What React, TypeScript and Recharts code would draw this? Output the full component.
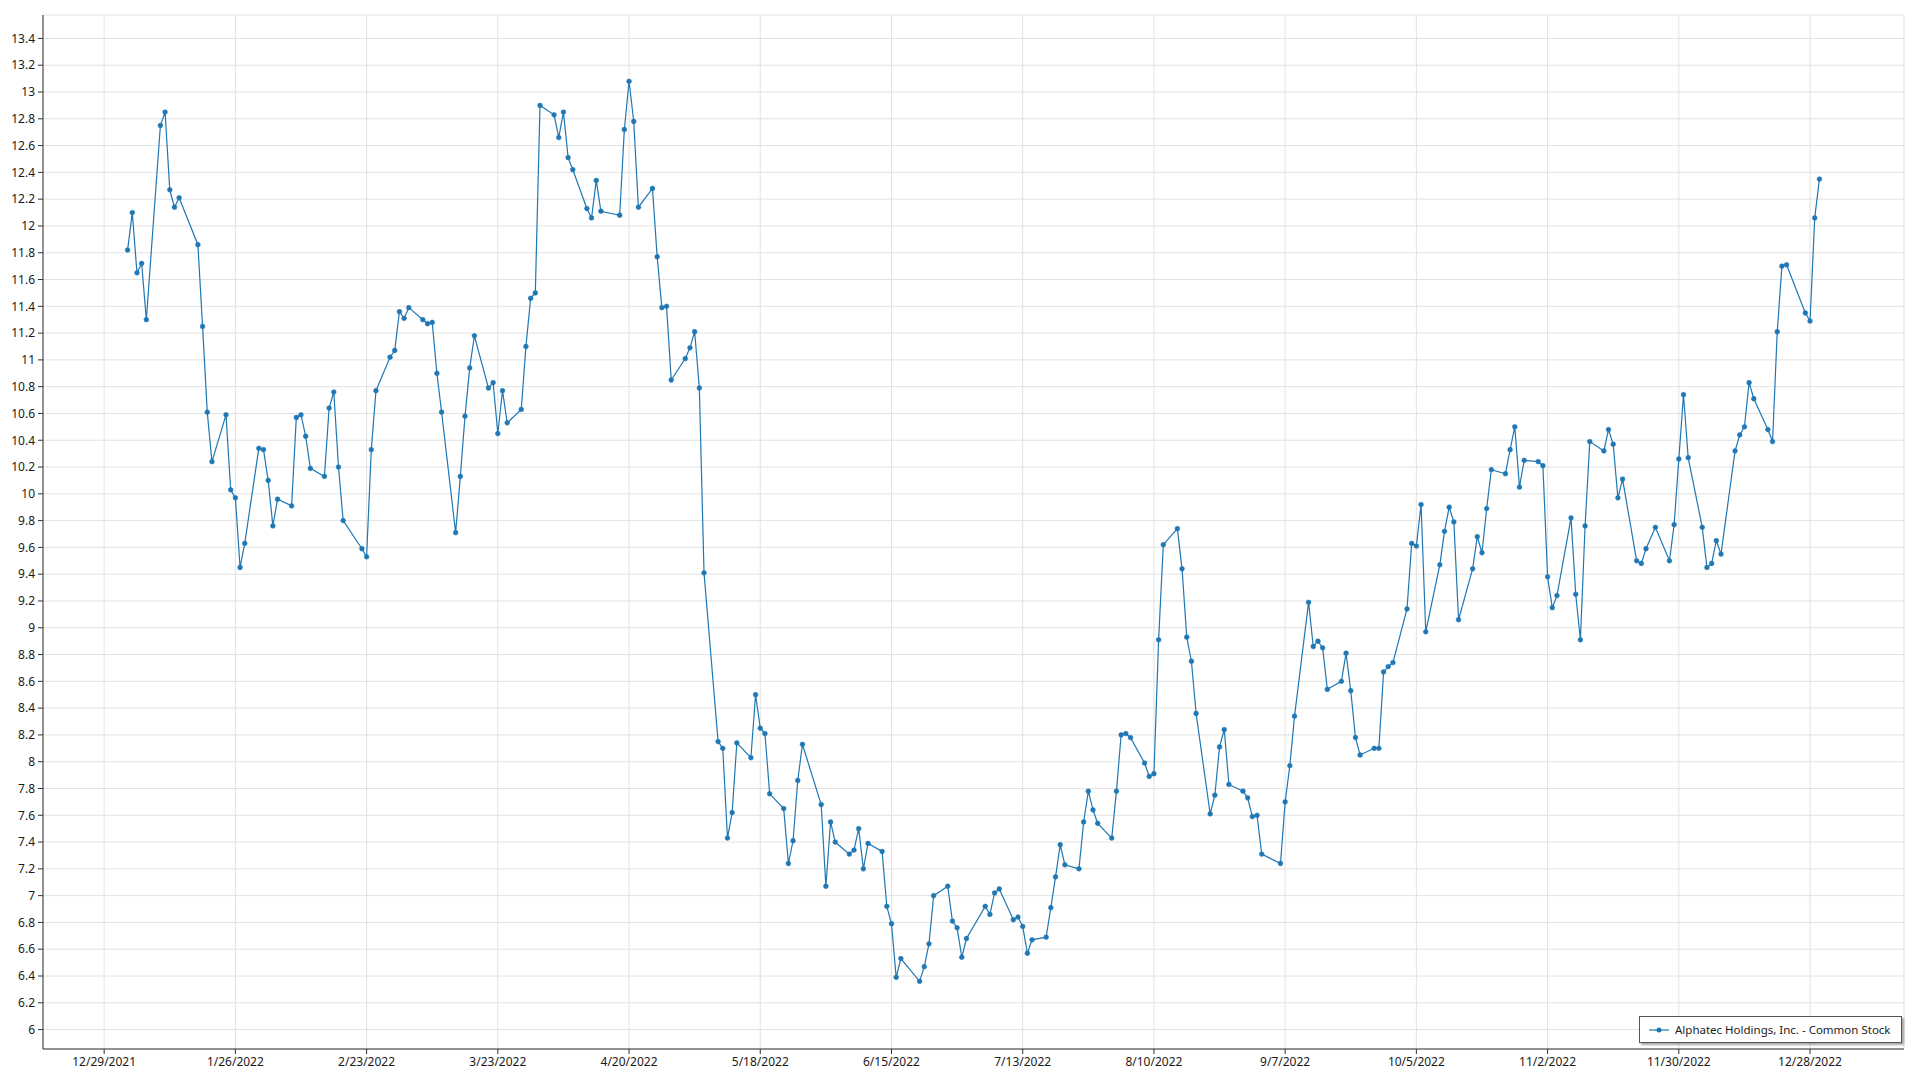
import React from "react";
import {
  LineChart,
  Line,
  XAxis,
  YAxis,
  CartesianGrid,
  Legend,
} from "recharts";

const SERIES_NAME = "Alphatec Holdings, Inc. - Common Stock";

// NYSE closed days in 2022 (weekdays only)
const holidays = [
  "2022-01-17",
  "2022-02-21",
  "2022-04-15",
  "2022-05-30",
  "2022-06-20",
  "2022-07-04",
  "2022-09-05",
  "2022-11-24",
  "2022-12-26",
];

// daily closes, one value per trading day, month by month
const jan = [11.82, 12.1, 11.65, 11.72, 11.3, 12.75, 12.85, 12.27, 12.14, 12.21, 11.86, 11.25, 10.61, 10.24, 10.59, 10.03, 9.97, 9.45, 9.63, 10.34];
const feb = [10.33, 10.1, 9.76, 9.96, 9.91, 10.57, 10.59, 10.43, 10.19, 10.13, 10.64, 10.76, 10.2, 9.8, 9.59, 9.53, 10.33, 10.77, 11.02];
const mar = [11.07, 11.36, 11.31, 11.39, 11.3, 11.27, 11.28, 10.9, 10.61, 9.71, 10.13, 10.58, 10.94, 11.18, 10.79, 10.83, 10.45, 10.77, 10.53, 10.63, 11.1, 11.46, 11.5];
const apr = [12.9, 12.83, 12.66, 12.85, 12.51, 12.42, 12.13, 12.06, 12.34, 12.11, 12.08, 12.72, 13.08, 12.78, 12.14, 12.28, 11.77, 11.39, 11.4, 10.85];
const may = [11.01, 11.09, 11.21, 10.79, 9.41, 8.15, 8.1, 7.43, 7.62, 8.14, 8.03, 8.5, 8.25, 8.21, 7.76, 7.65, 7.24, 7.41, 7.86, 8.13, 7.68];
const jun = [7.07, 7.55, 7.4, 7.31, 7.34, 7.5, 7.2, 7.39, 7.33, 6.92, 6.79, 6.39, 6.53, 6.36, 6.47, 6.64, 7.0, 7.07, 6.81, 6.76, 6.54];
const jul = [6.68, 6.92, 6.86, 7.02, 7.05, 6.82, 6.84, 6.77, 6.57, 6.67, 6.69, 6.91, 7.14, 7.38, 7.23, 7.2, 7.55, 7.78, 7.64, 7.54];
const aug = [7.43, 7.78, 8.2, 8.21, 8.18, 7.99, 7.89, 7.91, 8.91, 9.62, 9.74, 9.44, 8.93, 8.75, 8.36, 7.61, 7.75, 8.11, 8.24, 7.83, 7.78, 7.73, 7.59];
const sep = [7.6, 7.31, 7.24, 7.7, 7.97, 8.34, 9.19, 8.86, 8.9, 8.85, 8.54, 8.6, 8.81, 8.53, 8.18, 8.05, 8.1, 8.1, 8.67, 8.71, 8.74];
const oct = [9.14, 9.63, 9.61, 9.92, 8.97, 9.47, 9.72, 9.9, 9.79, 9.06, 9.44, 9.68, 9.56, 9.89, 10.18, 10.15, 10.33, 10.5, 10.05, 10.25, 10.24];
const nov = [10.21, 9.38, 9.15, 9.24, 9.82, 9.25, 8.91, 9.76, 10.39, 10.32, 10.48, 10.37, 9.97, 10.11, 9.5, 9.48, 9.59, 9.75, 9.5, 9.77, 10.26];
const dec = [10.74, 10.27, 9.75, 9.45, 9.48, 9.65, 9.55, 10.32, 10.44, 10.5, 10.83, 10.71, 10.48, 10.39, 11.21, 11.7, 11.71, 11.35, 11.29, 12.06, 12.35];

const months = [jan, feb, mar, apr, may, jun, jul, aug, sep, oct, nov, dec];

// x ticks: every 4 weeks from 12/29/2021 (values are days since that date)
const xTicks = [0, 28, 56, 84, 112, 140, 168, 196, 224, 252, 280, 308, 336, 364];
const yTicks = [
  6, 6.2, 6.4, 6.6, 6.8, 7, 7.2, 7.4, 7.6, 7.8, 8, 8.2, 8.4, 8.6, 8.8, 9, 9.2,
  9.4, 9.6, 9.8, 10, 10.2, 10.4, 10.6, 10.8, 11, 11.2, 11.4, 11.6, 11.8, 12,
  12.2, 12.4, 12.6, 12.8, 13, 13.2, 13.4,
];

const DAY = 86400000;
const ORIGIN = Date.UTC(2021, 11, 29);
const COLOR = "#1f77b4";
const FONT = "'Noto Sans', 'Open Sans', sans-serif";
const X_DOMAIN = [-13.05, 384.05];
const Y_DOMAIN = [5.855, 13.575];

const tradingDays = (month: number) => {
  const out: number[] = [];
  for (let d = 1; d <= 31; d++) {
    const ms = Date.UTC(2022, month, d);
    const dt = new Date(ms);
    if (dt.getUTCMonth() !== month) break;
    const wd = dt.getUTCDay();
    if (wd === 0 || wd === 6) continue;
    if (holidays.includes(dt.toISOString().slice(0, 10))) continue;
    out.push((ms - ORIGIN) / DAY);
  }
  return out;
};

const data: { t: number; price: number }[] = [];
months.forEach((vals, m) => {
  const days = tradingDays(m);
  vals.forEach((v, i) => data.push({ t: days[i], price: v }));
});

const fmtDate = (t: number) => {
  const d = new Date(ORIGIN + t * DAY);
  return `${d.getUTCMonth() + 1}/${d.getUTCDate()}/${d.getUTCFullYear()}`;
};

const LegendBox = () => (
  <div
    style={{
      display: "flex",
      alignItems: "center",
      boxSizing: "border-box",
      height: 27,
      background: "#fff",
      border: "1px solid #555",
      boxShadow: "2px 2px 2px rgba(0,0,0,0.35)",
      padding: "0 10px 0 9px",
      fontFamily: FONT,
      fontSize: 11.5,
      color: "#1a1a1a",
      whiteSpace: "nowrap",
    }}
  >
    <svg width={20} height={8} style={{ marginRight: 6 }}>
      <line x1={0} y1={4} x2={20} y2={4} stroke={COLOR} strokeWidth={1.5} opacity={0.8} />
      <circle cx={10} cy={4} r={2.5} fill={COLOR} />
    </svg>
    <span>{SERIES_NAME}</span>
  </div>
);

const App = () => {
  const tickStyle = { fontFamily: FONT, fontSize: 12, fill: "#1a1a1a" };
  return (
    <div style={{ position: "absolute", left: 0, top: 0, width: 1920, height: 1080, background: "#fff" }}>
      <LineChart
        width={1920}
        height={1080}
        data={data}
        margin={{ top: 15, right: 16, left: 0, bottom: 0 }}
      >
        <CartesianGrid stroke="#e2e2e2" strokeWidth={1} />
        <XAxis
          dataKey="t"
          type="number"
          domain={X_DOMAIN}
          ticks={xTicks}
          tickFormatter={fmtDate}
          tick={tickStyle}
          tickSize={5}
          tickMargin={3}
          height={31}
          stroke="#333"
          allowDataOverflow
        />
        <XAxis
          xAxisId="top"
          orientation="top"
          dataKey="t"
          type="number"
          domain={X_DOMAIN}
          height={0}
          tick={false}
          tickLine={false}
          stroke="#333"
        />
        <YAxis
          type="number"
          domain={Y_DOMAIN}
          ticks={yTicks}
          tick={tickStyle}
          tickSize={5}
          tickMargin={3}
          width={43}
          stroke="#333"
          allowDataOverflow
        />
        <YAxis
          yAxisId="right"
          orientation="right"
          type="number"
          domain={Y_DOMAIN}
          width={0}
          tick={false}
          tickLine={false}
          stroke="#333"
        />
        <Legend
          layout="horizontal"
          verticalAlign="middle"
          align="center"
          content={<LegendBox />}
          wrapperStyle={{ position: "absolute", left: 1639, top: 1016, width: "auto", height: "auto" }}
        />
        <Line
          dataKey="price"
          name={SERIES_NAME}
          stroke={COLOR}
          strokeWidth={1.2}
          dot={{ r: 2.4, fill: COLOR, stroke: COLOR, strokeWidth: 0.5 }}
          activeDot={false}
          isAnimationActive={false}
        />
      </LineChart>
    </div>
  );
};

export default App;
